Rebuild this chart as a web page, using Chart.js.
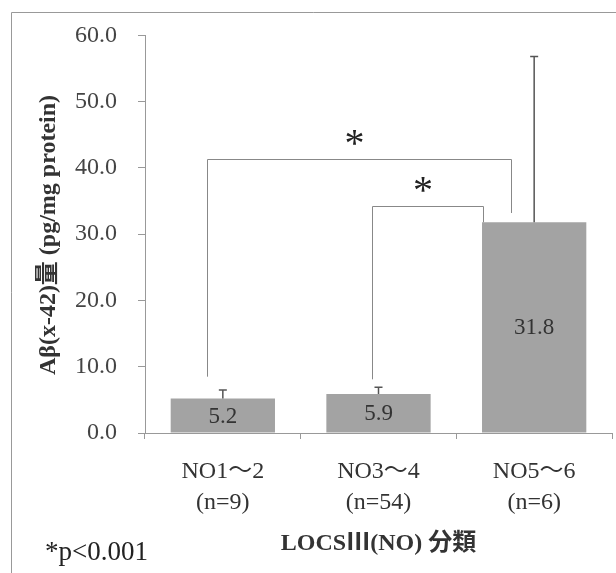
<!DOCTYPE html>
<html>
<head>
<meta charset="utf-8">
<script src="https://cdn.jsdelivr.net/npm/chart.js@4.4.1/dist/chart.umd.min.js"></script>
<style>
html, body { margin: 0; padding: 0; background: #fff; }
#wrap { width: 616px; height: 573px; }
</style>
</head>
<body>
<div id="wrap"><canvas id="abChart" width="616" height="573"></canvas></div>
<script>
// data
let groupLabels = [['NO1～2', '(n=9)'], ['NO3～4', '(n=54)'], ['NO5～6', '(n=6)']];
let meanValues = [5.2, 5.9, 31.8];
let errorTops = [6.5, 6.9, 56.8];
let yTickValues = [0, 10, 20, 30, 40, 50, 60];

// significance brackets (category index / value units)
let bracketFrom = [-0.1, 0.96];
let bracketTo = [1.85, 1.67];
let bracketLeftFoot = [8.5, 8.1];
let bracketRightFoot = [33.2, 31.8];
let bracketTop = [41.4, 34.2];

let yTitle = 'Aβ(x-42)量 (pg/mg protein)';
let xTitle = 'LOCSⅢ(NO) 分類';
let pNote = '*p<0.001';

const serif = '"Liberation Serif", "Noto Sans CJK JP", serif';

// index -> pixel, allows fractions
function catPixel(scale, idx) {
    let w = scale.getPixelForValue(1) - scale.getPixelForValue(0);
    return scale.getPixelForValue(0) + idx * w;
}

const extras = {
    id: 'extras',
    afterDatasetsDraw(chart) {
        let ctx = chart.ctx;
        let x = chart.scales.x;
        let y = chart.scales.y;
        let bars = chart.getDatasetMeta(0).data;

        // error bars
        ctx.save();
        ctx.strokeStyle = '#555';
        ctx.lineWidth = 1.5;
        bars.forEach(function(bar, i){
            let top = y.getPixelForValue(errorTops[i]);
            ctx.beginPath();
            ctx.moveTo(bar.x, bar.y);
            ctx.lineTo(bar.x, top);
            ctx.moveTo(bar.x - 4, top);
            ctx.lineTo(bar.x + 4, top);
            ctx.stroke();
        });
        ctx.restore();

        // value labels inside bars
        ctx.save();
        ctx.font = '23px ' + serif;
        ctx.fillStyle = '#333';
        ctx.textAlign = 'center';
        ctx.textBaseline = 'middle';
        bars.forEach(function(bar, i){
            ctx.fillText(meanValues[i].toFixed(1), bar.x, (bar.y + bar.base) / 2 + 1);
        });
        ctx.restore();

        // brackets
        ctx.save();
        ctx.strokeStyle = '#888';
        ctx.lineWidth = 1;
        for (let i = 0; i < bracketFrom.length; i++) {
            let x1 = Math.round(catPixel(x, bracketFrom[i])) + 0.5;
            let x2 = Math.round(catPixel(x, bracketTo[i])) + 0.5;
            let yt = Math.round(y.getPixelForValue(bracketTop[i])) + 0.5;
            ctx.beginPath();
            ctx.moveTo(x1, y.getPixelForValue(bracketLeftFoot[i]));
            ctx.lineTo(x1, yt);
            ctx.lineTo(x2, yt);
            ctx.lineTo(x2, y.getPixelForValue(bracketRightFoot[i]));
            ctx.stroke();

            ctx.font = '40px ' + serif;
            ctx.fillStyle = '#222';
            ctx.textAlign = 'center';
            ctx.textBaseline = 'alphabetic';
            ctx.fillText('*', (x1 + x2) / 2 - 5, yt - 4);
        }
        ctx.restore();
    },
    afterDraw(chart) {
        let ctx = chart.ctx;
        let area = chart.chartArea;
        ctx.save();

        // outer frame
        ctx.strokeStyle = '#999';
        ctx.lineWidth = 1;
        ctx.beginPath();
        ctx.moveTo(11.5, 573);
        ctx.lineTo(11.5, 12.5);
        ctx.lineTo(616, 12.5);
        ctx.stroke();

        // y title
        ctx.fillStyle = '#333';
        ctx.font = 'bold 24px ' + serif;
        ctx.textAlign = 'center';
        ctx.textBaseline = 'middle';
        ctx.translate(49, 235);
        ctx.rotate(-Math.PI / 2);
        ctx.fillText(yTitle, 0, 0);
        ctx.setTransform(1, 0, 0, 1, 0, 0);

        // x title
        ctx.font = 'bold 24px ' + serif;
        ctx.fillText(xTitle, (area.left + area.right) / 2, 544);

        // p note
        ctx.font = '27px ' + serif;
        ctx.textAlign = 'left';
        ctx.fillStyle = '#222';
        ctx.fillText(pNote, 45, 553);
        ctx.restore();
    }
};

new Chart(document.getElementById('abChart'), {
    type: 'bar',
    data: {
        labels: groupLabels,
        datasets: [{
            label: 'Aβ',
            data: meanValues,
            backgroundColor: '#a3a3a3',
            borderWidth: 0,
            barPercentage: 0.67,
            categoryPercentage: 1
        }]
    },
    options: {
        responsive: false,
        animation: false,
        layout: {
            padding: { top: 33, right: 4, bottom: 0, left: 0 }
        },
        plugins: {
            legend: { display: false },
            tooltip: { enabled: false }
        },
        scales: {
            x: {
                afterFit: function(scale){ scale.height = 140; },
                grid: {
                    offset: true,
                    drawOnChartArea: false,
                    tickLength: 6,
                    color: '#999'
                },
                border: { color: '#999' },
                ticks: {
                    font: { family: serif, size: 24, lineHeight: 1.3 },
                    color: '#333',
                    padding: 17,
                    maxRotation: 0
                }
            },
            y: {
                min: 0,
                max: 60,
                afterFit: function(scale){ scale.width = 145; },
                afterBuildTicks: function(scale){
                    scale.ticks = yTickValues.map(function(v){ return { value: v }; });
                },
                grid: {
                    drawOnChartArea: false,
                    tickLength: 7,
                    color: '#999'
                },
                border: { color: '#999' },
                ticks: {
                    font: { family: serif, size: 24 },
                    color: '#444',
                    padding: 21,
                    callback: function(v){ return v.toFixed(1); }
                }
            }
        }
    },
    plugins: [extras]
});
</script>
</body>
</html>
